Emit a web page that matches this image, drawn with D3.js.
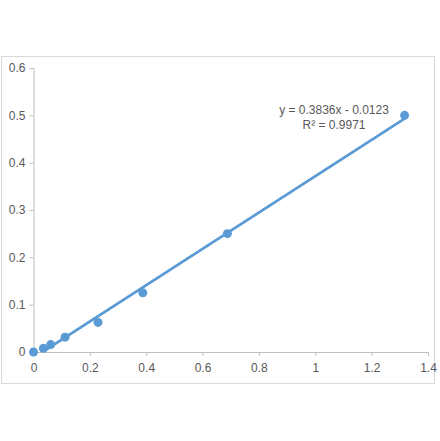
<!DOCTYPE html>
<html>
<head>
<meta charset="utf-8">
<script src="https://cdn.jsdelivr.net/npm/d3@7"></script>
<style>
  body { margin: 0; background: #fff; }
  svg text { font-family: "Liberation Sans", Arial, sans-serif; }
</style>
</head>
<body>
<svg></svg>
<script>
// standard curve readings
const absorbance = [0, 0.035, 0.061, 0.112, 0.229, 0.388, 0.688, 1.317];
const concentration = [0, 0.0078, 0.0156, 0.0313, 0.0625, 0.125, 0.25, 0.5];
const xTicks = [0, 0.2, 0.4, 0.6, 0.8, 1, 1.2, 1.4];
const yTicks = [0, 0.1, 0.2, 0.3, 0.4, 0.5, 0.6];
const slope = 0.3836;
const intercept = -0.0123;
const equationLines = ["y = 0.3836x - 0.0123", "R² = 0.9971"];

const width = 440;
const height = 441;
const blue = "#5b9bd5";

const svg = d3.select("svg")
    .attr("width", width)
    .attr("height", height);

// chart frame
svg.append("rect")
    .attr("x", 1.5).attr("y", 56.5)
    .attr("width", 433).attr("height", 327)
    .attr("fill", "none")
    .attr("stroke", "#d9d9d9");

const x = d3.scaleLinear().domain([0, 1.4]).range([33.5, 428]);
const y = d3.scaleLinear().domain([0, 0.6]).range([352, 68]);

const xAxis = svg.append("g")
    .attr("transform", `translate(0,${y(0)})`)
    .call(d3.axisBottom(x).tickValues(xTicks).tickSize(4).tickPadding(7)
        .tickFormat(d => d === 0 ? "0" : d3.format("")(+d.toFixed(1))));

const yAxis = svg.append("g")
    .attr("transform", `translate(${x(0)},0)`)
    .call(d3.axisLeft(y).tickValues(yTicks).tickSize(4).tickPadding(4)
        .tickFormat(d => d === 0 ? "0" : d.toFixed(1)));

[xAxis, yAxis].forEach(g => {
    g.select(".domain").attr("stroke", "#bfbfbf");
    g.selectAll(".tick line").attr("stroke", "#bfbfbf");
    g.selectAll(".tick text")
        .attr("fill", "#595959")
        .style("font-size", "12px");
});

// trendline, clipped to the plot area
svg.append("clipPath").attr("id", "plot")
    .append("rect")
    .attr("x", x(0)).attr("y", y(0.6))
    .attr("width", x(1.4) - x(0)).attr("height", y(0) - y(0.6));

const xMax = d3.max(absorbance);
svg.append("line")
    .attr("clip-path", "url(#plot)")
    .attr("x1", x(0)).attr("y1", y(intercept))
    .attr("x2", x(xMax)).attr("y2", y(slope * xMax + intercept))
    .attr("stroke", blue)
    .attr("stroke-width", 2.75)
    .attr("stroke-linecap", "round");

svg.append("g")
    .selectAll("circle")
    .data(absorbance)
    .enter().append("circle")
    .attr("cx", d => x(d))
    .attr("cy", (d, i) => y(concentration[i]))
    .attr("r", 4.5)
    .attr("fill", blue);

svg.append("g")
    .selectAll("text")
    .data(equationLines)
    .enter().append("text")
    .attr("x", 334)
    .attr("y", (d, i) => 114 + i * 15)
    .attr("text-anchor", "middle")
    .attr("fill", "#595959")
    .style("font-size", "12px")
    .text(d => d);
</script>
</body>
</html>
